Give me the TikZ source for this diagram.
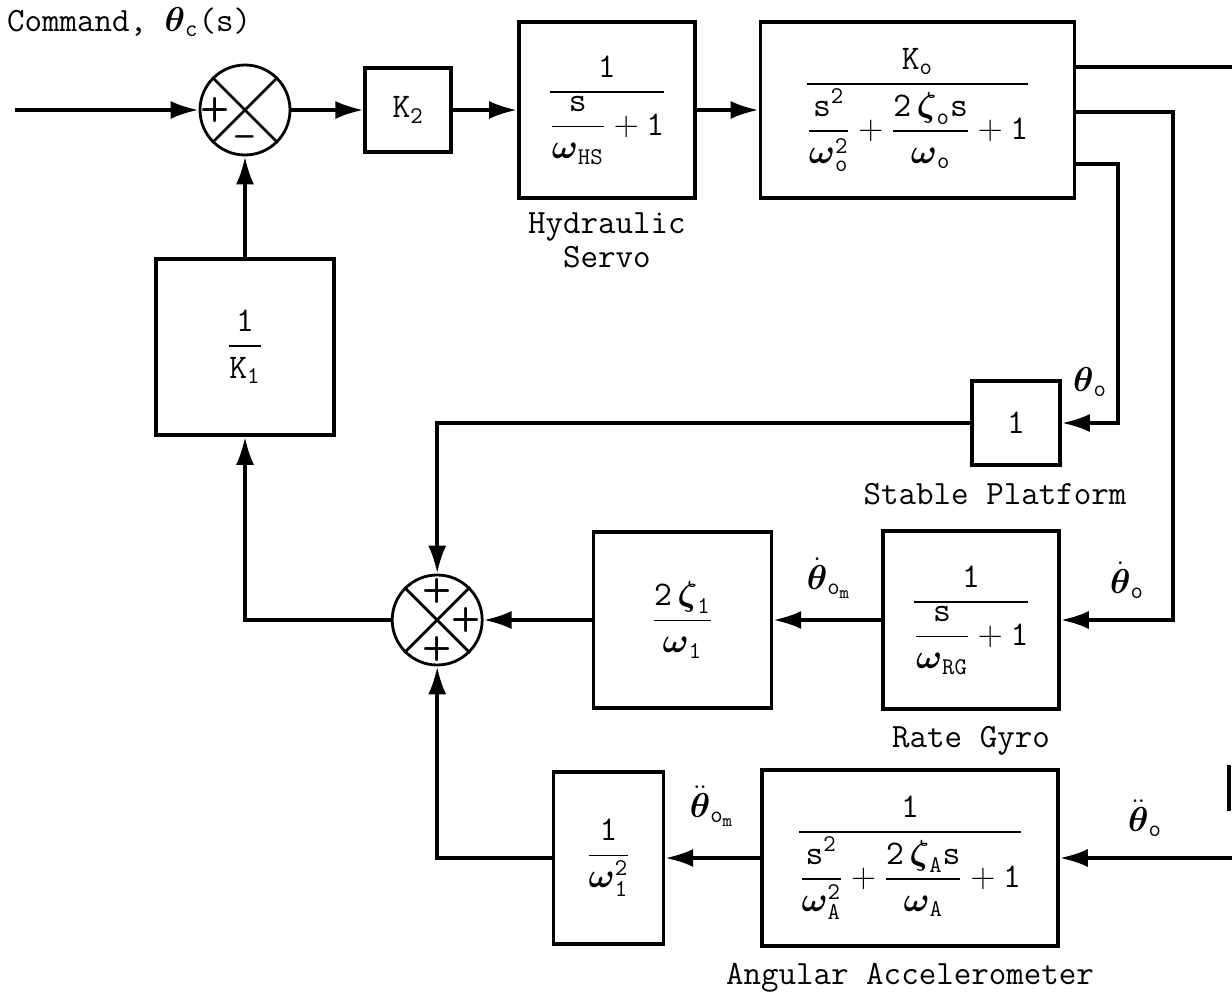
\documentclass[tikz,border=0pt]{standalone}
\usepackage{amsmath}
\usepackage{amssymb}
\usepackage{tikz}
\usetikzlibrary{arrows.meta,positioning,calc}
\newcommand{\wg}{\boldsymbol{\omega}}
\newcommand{\zg}{\boldsymbol{\zeta}}
\newcommand{\thg}{\boldsymbol{\theta}}
\tikzset{
  >={Latex[length=14pt,width=9pt]},
  block/.style={draw, line width=1.8pt, inner sep=0pt, align=center},
  sumj/.style={draw, circle, line width=1.4pt, minimum size=45pt, inner sep=0pt},
  sig/.style={font=\sffamily\bfseries\fontsize{17}{19}\selectfont, inner sep=0pt},
  lbl/.style={font=\ttfamily\fontsize{17}{20}\selectfont, align=center},
  wire/.style={line width=1.8pt},
}
\begin{document}
\begin{tikzpicture}[x=0.5pt, y=-0.5pt, font=\fontsize{18}{21}\selectfont]
  \useasboundingbox (0,0) rectangle (1232,999);
  % forward path
  \node[sumj] (sumA) at (245,110) {};
  \node[block, minimum width=43pt, minimum height=42pt, right=36pt of sumA] (ktwo) {$\mathtt{K}_{\mathtt{2}}$};
  \node[block, minimum width=88pt, minimum height=88pt, right=32pt of ktwo] (hs)
    {$\dfrac{\mathtt{1}}{\dfrac{\mathtt{s}}{\wg_{\mathtt{HS}}}+\mathtt{1}}$};
  \node[block, minimum width=157pt, minimum height=88pt, right=31pt of hs] (plant)
    {$\dfrac{\mathtt{K}_{\mathtt{o}}}{\dfrac{\mathtt{s}^{\mathtt{2}}}{\wg_{\mathtt{o}}^{\mathtt{2}}}+\dfrac{\mathtt{2}\,\zg_{\mathtt{o}}\mathtt{s}}{\wg_{\mathtt{o}}}+\mathtt{1}}$};
  \node[lbl, below=3pt of hs] (hslbl) {Hydraulic\\[-3pt]Servo};
  \node[lbl, anchor=west] (cmd) at (0,22) {Command, $\thg_{\mathtt{c}}$(s)};

  % feedback blocks
  \node[block, minimum width=89pt, minimum height=88pt] (kone) at (245,347) {$\dfrac{\mathtt{1}}{\mathtt{K}_{\mathtt{1}}}$};
  \node[block, minimum width=44pt, minimum height=42pt] (sp) at (1016,423) {$\mathtt{1}$};
  \node[lbl] (splbl) at (995,494) {Stable Platform};
  \node[block, minimum width=88pt, minimum height=89pt] (rg) at (971,620)
    {$\dfrac{\mathtt{1}}{\dfrac{\mathtt{s}}{\wg_{\mathtt{RG}}}+\mathtt{1}}$};
  \node[lbl, below=4pt of rg] (rglbl) {Rate Gyro};
  \node[block, minimum width=89pt, minimum height=88pt, left=54pt of rg] (zeta)
    {$\dfrac{\mathtt{2}\,\zg_{\mathtt{1}}}{\wg_{\mathtt{1}}}$};
  \node[sumj, left=54pt of zeta] (sumB) {};
  \node[block, minimum width=148pt, minimum height=88pt] (aa) at (910,858)
    {$\dfrac{\mathtt{1}}{\dfrac{\mathtt{s}^{\mathtt{2}}}{\wg_{\mathtt{A}}^{\mathtt{2}}}+\dfrac{\mathtt{2}\,\zg_{\mathtt{A}}\mathtt{s}}{\wg_{\mathtt{A}}}+\mathtt{1}}$};
  \node[lbl, below=4pt of aa] (aalbl) {Angular Accelerometer};
  \node[block, minimum width=55pt, minimum height=86pt, left=47.5pt of aa] (winv)
    {$\dfrac{\mathtt{1}}{\wg_{\mathtt{1}}^{\mathtt{2}}}$};

  % summing junction marks
  \draw[line width=1.4pt] (sumA.north west) -- (sumA.south east) (sumA.north east) -- (sumA.south west);
  \draw[line width=1.4pt] (sumB.north west) -- (sumB.south east) (sumB.north east) -- (sumB.south west);
  \node[sig] (sAp) at ($(sumA)+(-30,0)$) {+};
  \node[sig] (sAm) at ($(sumA)+(0,31)$) {\textendash};
  \node[sig] (sBt) at ($(sumB)+(0,-29)$) {+};
  \node[sig] (sBr) at ($(sumB)+(29,0)$) {+};
  \node[sig] (sBb) at ($(sumB)+(0,29)$) {+};

  % signal labels
  \node (lth) at (1090,382) {$\thg_{\mathtt{o}}$};
  \node (lthd) at (1127,580) {$\dot{\thg}_{\mathtt{o}}$};
  \node (lthdd) at (1145,818) {$\ddot{\thg}_{\mathtt{o}}$};
  \node (lthdm) at (829,578) {$\dot{\thg}_{\mathtt{o}_{\mathtt{m}}}$};
  \node (lthddm) at (712,806) {$\ddot{\thg}_{\mathtt{o}_{\mathtt{m}}}$};

  % connectors
  \coordinate (cin) at (15,110);
  \coordinate (pout) at (1232,67);
  \coordinate (tapB) at (1173,112);
  \coordinate (tapC) at (1118,164);
  \coordinate (ddin) at (1232,858);
  \draw[wire,->] (cin) -- (sumA);
  \draw[wire,->] (sumA) -- (ktwo);
  \draw[wire,->] (ktwo) -- (hs);
  \draw[wire,->] (hs) -- (plant);
  \draw[wire] (plant.east |- pout) -- (pout);
  \draw[wire,->] (plant.east |- tapB) -- (tapB) |- (rg.east);
  \draw[wire,->] (plant.east |- tapC) -- (tapC) |- (sp.east);
  \draw[wire,->] (sp.west) -| (sumB.north);
  \draw[wire,->] (rg) -- (zeta);
  \draw[wire,->] (zeta) -- (sumB);
  \draw[wire,->] (sumB.west) -| (kone.south);
  \draw[wire,->] (kone) -- (sumA);
  \draw[wire,->] (ddin) -- (aa);
  \draw[wire,->] (aa) -- (winv);
  \draw[wire,->] (winv.west) -| (sumB.south);
  \draw[wire] (1229,765) -- (1229,811);
\end{tikzpicture}
\end{document}
